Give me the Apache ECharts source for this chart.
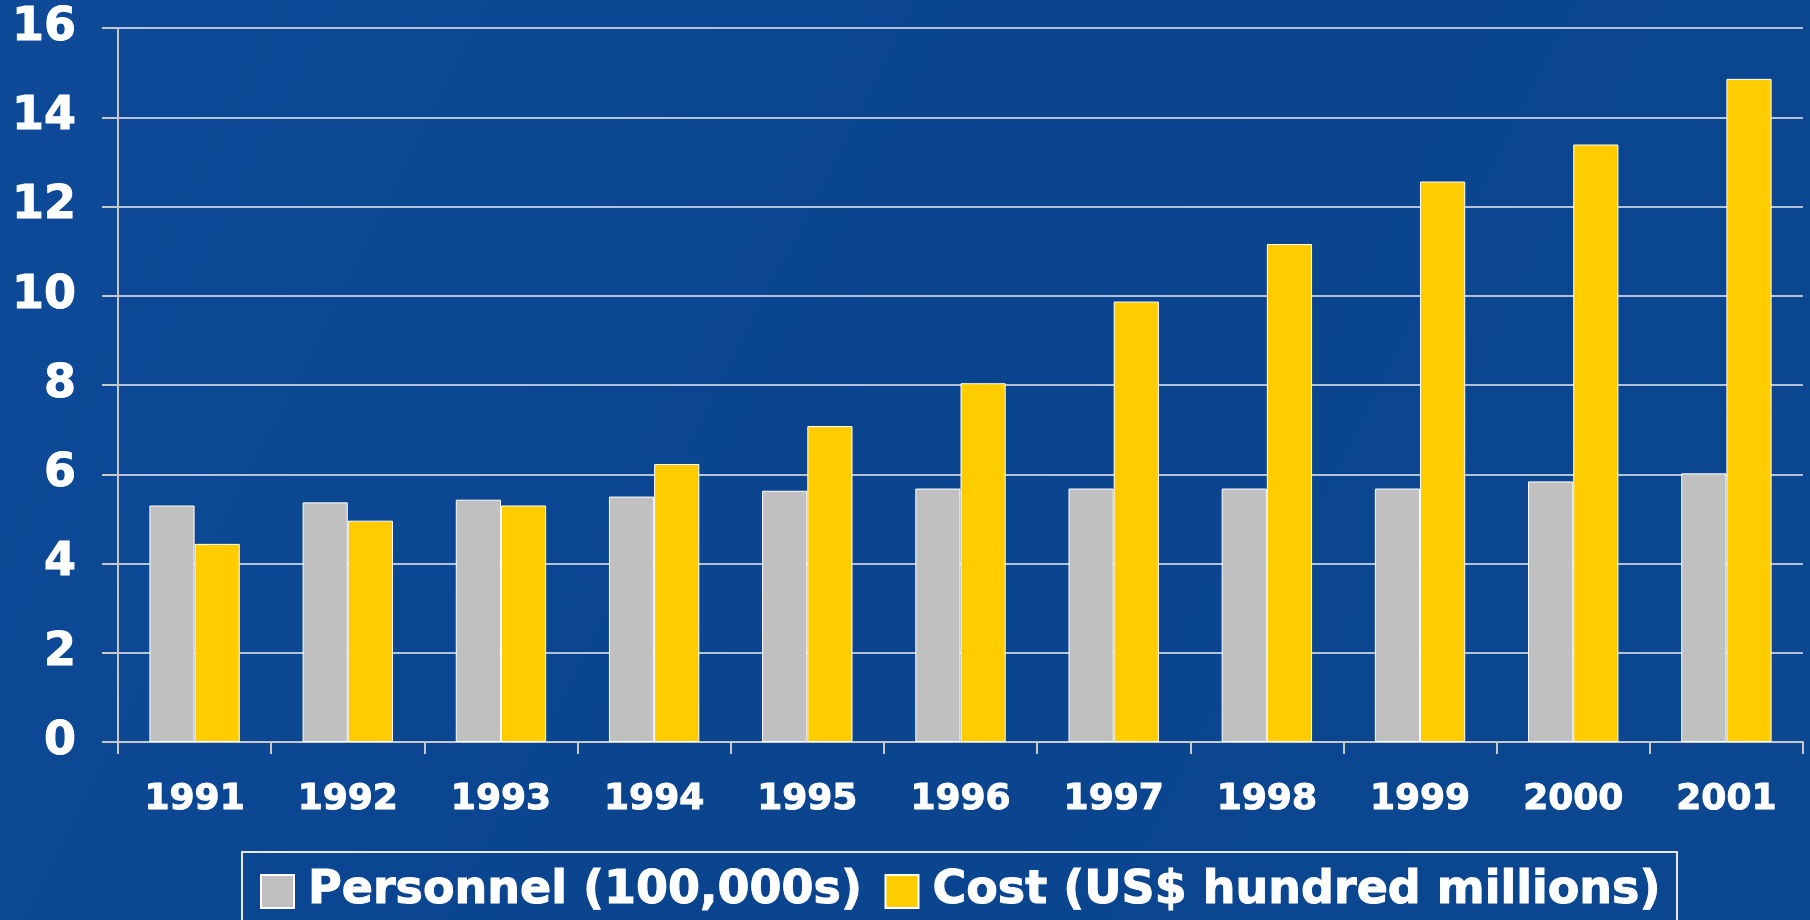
<!DOCTYPE html>
<html>
<head>
<meta charset="utf-8">
<script src="https://cdn.jsdelivr.net/npm/echarts@6/dist/echarts.min.js"></script>
<style>
html,body{margin:0;padding:0;background:#0c4692;}
#c{width:1810px;height:920px;}
</style>
</head>
<body>
<div id="c"></div>
<script>
const years = ['1991','1992','1993','1994','1995','1996','1997','1998','1999','2000','2001'];
const personnel = [5.30, 5.37, 5.43, 5.50, 5.63, 5.68, 5.68, 5.68, 5.68, 5.84, 6.02];
const cost = [4.44, 4.96, 5.30, 6.23, 7.08, 8.04, 9.87, 11.16, 12.56, 13.39, 14.86];
const seriesNames = ['Personnel (100,000s)', 'Cost (US$ hundred millions)'];

const chart = echarts.init(document.getElementById('c'));
const font = 'Verdana, "DejaVu Sans", sans-serif';
chart.setOption({
  backgroundColor: {
    type: 'linear', x: 0, y: 0, x2: 1, y2: 1,
    colorStops: [{offset: 0, color: '#0e4a98'}, {offset: 0.5, color: '#0a448f'}, {offset: 1, color: '#0c4792'}]
  },
  animation: false,
  grid: {left: 118, right: 7, top: 28, bottom: 178},
  legend: {
    left: 242, top: 852,
    padding: [16, 16, 30, 18],
    borderColor: '#e8e8e8', borderWidth: 2,
    itemWidth: 33, itemHeight: 33, itemGap: 22,
    icon: 'rect',
    textStyle: {color: '#ffffff', fontSize: 46, fontWeight: 'bold', fontFamily: font,
      textBorderColor: '#ffffff', textBorderWidth: 1, padding: [0, 0, 0, 9]},
    data: seriesNames
  },
  xAxis: {
    type: 'category',
    data: years,
    axisLine: {lineStyle: {color: '#c8c8c8', width: 2}},
    axisTick: {show: true, length: 12, lineStyle: {color: '#c8c8c8', width: 2}},
    axisLabel: {color: '#ffffff', fontSize: 36, fontWeight: 'bold', fontFamily: font, margin: 40,
      textBorderColor: '#ffffff', textBorderWidth: 1}
  },
  yAxis: {
    type: 'value', min: 0, max: 16, interval: 2,
    axisLine: {show: true, lineStyle: {color: '#c8c8c8', width: 2}},
    axisTick: {show: true, length: 16, lineStyle: {color: '#c8c8c8', width: 2}},
    splitLine: {lineStyle: {color: 'rgba(220,225,235,0.8)', width: 2}},
    axisLabel: {color: '#ffffff', fontSize: 46, fontWeight: 'bold', fontFamily: font, margin: 42,
      textBorderColor: '#ffffff', textBorderWidth: 1}
  },
  series: [
    {name: seriesNames[0], type: 'bar', data: personnel, barGap: '0%', barCategoryGap: '41%',
     itemStyle: {color: '#c0c0c0', borderColor: '#ffffff', borderWidth: 1}},
    {name: seriesNames[1], type: 'bar', data: cost,
     itemStyle: {color: '#ffcc00', borderColor: '#ffffff', borderWidth: 1}}
  ]
});
</script>
</body>
</html>
